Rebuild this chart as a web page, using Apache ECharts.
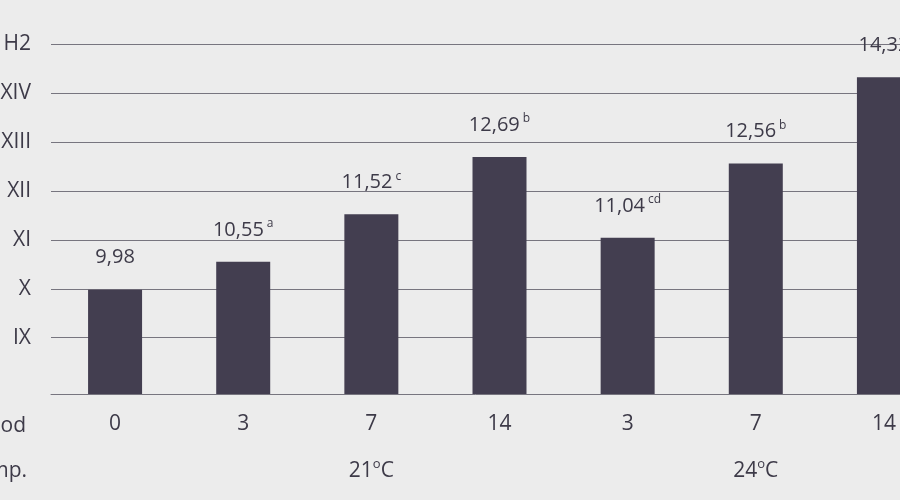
<!DOCTYPE html>
<html>
<head>
<meta charset="utf-8">
<script src="https://cdn.jsdelivr.net/npm/echarts@6/dist/echarts.min.js"></script>
<style>
  html, body { margin: 0; padding: 0; background: #ececec; }
  #chart { width: 900px; height: 500px; }
</style>
</head>
<body>
<div id="chart"></div>
<script>
const periods = ['0', '3', '7', '14', '3', '7', '14']
const temps = ['', '', '21°C', '', '', '24°C', '']
const values = [9.98, 10.55, 11.52, 12.69, 11.04, 12.56, 14.32]
const letters = ['', 'a', 'c', 'b', 'cd', 'b', '']
const yTicks = [9, 10, 11, 12, 13, 14, 15]
const yTickLabels = ['IX', 'X', 'XI', 'XII', 'XIII', 'XIV', 'H2']

const font = '"Open Sans", "Noto Sans", sans-serif'
const ink = '#3d3a48'
const gridColor = '#77757f'

const chart = echarts.init(document.getElementById('chart'))

chart.setOption({
  backgroundColor: '#ececec',
  animation: false,
  textStyle: { fontFamily: font },
  grid: { left: 51, top: 44, width: 897, height: 350, outerBoundsMode: 'none' },
  xAxis: [
    {
      type: 'category',
      data: periods,
      axisLine: { lineStyle: { color: gridColor, width: 1 } },
      axisTick: { show: false },
      axisLabel: { color: ink, fontSize: 21, fontFamily: font, margin: 20, interval: 0 }
    },
    {
      type: 'category',
      position: 'bottom',
      offset: 44,
      data: temps,
      axisLine: { show: false },
      axisTick: { show: false },
      axisLabel: {
        interval: 0,
        margin: 20,
        formatter: t => t ? '{n|' + t.replace('°', '}{o|o}{n|') + '}' : '',
        rich: {
          n: { color: ink, fontSize: 21, lineHeight: 26, fontFamily: font },
          o: { color: ink, fontSize: 13, lineHeight: 13, fontFamily: font, verticalAlign: 'top' }
        }
      }
    }
  ],
  yAxis: {
    type: 'value',
    min: 7.85,
    max: 15,
    axisLine: { show: false },
    axisTick: { show: false, customValues: yTicks },
    axisLabel: {
      customValues: yTicks,
      color: ink,
      fontSize: 21,
      fontFamily: font,
      margin: 20,
      formatter: v => {
        const i = yTicks.indexOf(Math.round(v))
        return i >= 0 ? yTickLabels[i] : ''
      }
    },
    splitLine: { lineStyle: { color: gridColor, width: 1 } }
  },
  graphic: [
    {
      type: 'text', x: 26, y: 426,
      style: { text: 'Period', align: 'right', verticalAlign: 'middle', fontSize: 21, fontFamily: font, fill: ink }
    },
    {
      type: 'text', x: 27, y: 471,
      style: { text: 'Temp.', align: 'right', verticalAlign: 'middle', fontSize: 21, fontFamily: font, fill: ink }
    }
  ],
  series: [
    {
      type: 'bar',
      data: values,
      barWidth: 54,
      itemStyle: { color: '#433e50' },
      label: {
        show: true,
        position: 'top',
        distance: 20,
        formatter: p => {
          const txt = p.value.toFixed(2).replace('.', ',')
          const sup = letters[p.dataIndex]
          return '{v|' + txt + '}' + (sup ? '{s|' + sup + '}' : '')
        },
        rich: {
          v: { color: ink, fontSize: 20, lineHeight: 24, fontFamily: font },
          s: { color: ink, fontSize: 12, lineHeight: 12, fontFamily: font, verticalAlign: 'top', padding: [0, 0, 0, 3] }
        }
      }
    }
  ]
})

window.addEventListener('resize', () => chart.resize())
</script>
</body>
</html>
